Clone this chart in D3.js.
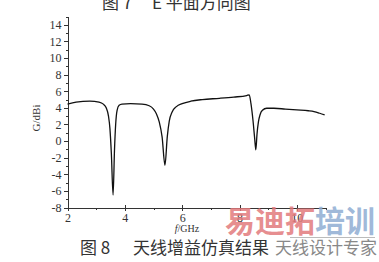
<!DOCTYPE html>
<html>
<head>
<meta charset="UTF-8">
<title>天线增益仿真结果</title>
<script src="https://cdn.jsdelivr.net/npm/d3@7"></script>
<style>
body { margin: 0; background: #fff; }
svg { display: block; }
.axis path, .axis line { stroke: #333; stroke-width: 1; shape-rendering: crispEdges; }
.axis text { font: 12px "Liberation Serif", serif; fill: #333; }
.curve { fill: none; stroke: #111; stroke-width: 1.3px; }
.cn { font-family: "Noto Sans CJK SC", sans-serif; fill: #333; }
</style>
</head>
<body>
<svg width="379" height="262"></svg>
<script>
// frequence (GHz) et gain (dBi)
var freq = [2.0, 2.3, 2.78, 3.1, 3.25, 3.35, 3.43, 3.48, 3.53, 3.59, 3.64, 3.68, 3.73, 3.8, 3.9,
            4.2, 4.6, 4.85, 5.0, 5.1, 5.2, 5.3, 5.4, 5.48, 5.55, 5.65, 5.8, 6.0, 6.3, 6.7,
            7.3, 7.8, 8.25, 8.34, 8.4, 8.47, 8.53, 8.57, 8.61, 8.66, 8.72, 8.8, 8.95, 9.2,
            9.6, 10.0, 10.4, 10.6, 10.8, 10.97];
var gain = [4.45, 4.68, 4.82, 4.7, 4.45, 4.0, 3.0, 1.5, -1.5, -6.5, -1.0, 2.0, 3.7, 4.3, 4.45,
            4.5, 4.45, 4.25, 3.85, 3.3, 2.3, 0.5, -2.9, 0.5, 2.4, 3.5, 4.15, 4.5, 4.8, 5.0,
            5.15, 5.3, 5.48, 5.57, 4.5, 2.5, 0.3, -1.06, 0.8, 2.3, 3.2, 3.7, 3.95, 3.95,
            3.85, 3.75, 3.65, 3.55, 3.35, 3.15];
var xTicks = [2, 4, 6, 8, 10];
var xMinor = [3, 5, 7, 9, 11];
var yTicks = [-8, -6, -4, -2, 0, 2, 4, 6, 8, 10, 12, 14];
var yMinor = [-7, -5, -3, -1, 1, 3, 5, 7, 9, 11, 13, 15];

var svg = d3.select("svg");

var x = d3.scaleLinear().domain([2, 11]).range([67.5, 325.5]);
var y = d3.scaleLinear().domain([-8, 15]).range([207.5, 16.5]);

// axe y
svg.append("g")
    .attr("class", "axis")
    .attr("transform", "translate(" + x.range()[0] + ",0)")
    .call(d3.axisLeft(y).tickValues(yMinor).tickSize(2).tickFormat("").tickSizeOuter(0));
svg.append("g")
    .attr("class", "axis")
    .attr("transform", "translate(" + x.range()[0] + ",0)")
    .call(d3.axisLeft(y).tickValues(yTicks).tickSize(4).tickPadding(2).tickSizeOuter(0)
      .tickFormat(function(d) { return String(d).replace("\u2212", "-"); }));

// axe x
svg.append("g")
    .attr("class", "axis")
    .attr("transform", "translate(0," + y(-8) + ")")
    .call(d3.axisBottom(x).tickValues(xMinor).tickSize(2).tickFormat("").tickSizeOuter(0));
var ax = svg.append("g")
    .attr("class", "axis")
    .attr("transform", "translate(0," + y(-8) + ")")
    .call(d3.axisBottom(x).tickValues(xTicks).tickSize(3).tickPadding(3).tickSizeOuter(0));
ax.selectAll(".tick line").attr("y1", -3);

// courbe
var line = d3.line()
    .x(function(d, i) { return x(freq[i]); })
    .y(function(d, i) { return y(gain[i]); })
    .curve(d3.curveMonotoneX);

svg.append("path")
    .datum(gain)
    .attr("class", "curve")
    .attr("d", line);

// libelles des axes
svg.append("text")
    .attr("transform", "translate(40,118) rotate(-90)")
    .attr("text-anchor", "middle")
    .style("font", "11px 'Liberation Serif', serif")
    .style("fill", "#333")
    .text("G/dBi");

var xl = svg.append("text")
    .attr("x", 187)
    .attr("y", 232)
    .attr("text-anchor", "middle")
    .style("font", "10px 'Liberation Serif', serif")
    .style("fill", "#333");
xl.append("tspan").style("font-style", "italic").text("f");
xl.append("tspan").text("/GHz");

// titre de la figure precedente (coupe en haut)
svg.append("text").attr("class", "cn").attr("x", 102).attr("y", 9)
    .style("font-size", "17px").text("图 7");
svg.append("text").attr("class", "cn").attr("x", 152).attr("y", 9)
    .style("font-size", "17px").text("E 平面方向图");

// legende
svg.append("text").attr("class", "cn").attr("x", 80).attr("y", 254)
    .style("font-size", "17px").text("图 8");
svg.append("text").attr("class", "cn").attr("x", 133).attr("y", 254)
    .style("font-size", "17px").text("天线增益仿真结果");

// filigrane
var wm = svg.append("text")
    .attr("x", 225)
    .attr("y", 232)
    .style("font-family", "'Noto Sans CJK SC', sans-serif")
    .style("font-size", "30px")
    .style("font-weight", "bold");
wm.append("tspan").style("fill", "#e27a7c").style("fill-opacity", 0.85).text("易迪拓");
wm.append("tspan").style("fill", "#8fadd3").style("fill-opacity", 0.85).text("培训");
svg.append("line")
    .attr("x1", 290).attr("x2", 375).attr("y1", 237.5).attr("y2", 237.5)
    .style("stroke", "#bbb").style("stroke-width", 1);
svg.append("text").attr("class", "cn").attr("x", 275).attr("y", 254)
    .style("font-size", "17px").style("fill", "#888").text("天线设计专家");
</script>
</body>
</html>
